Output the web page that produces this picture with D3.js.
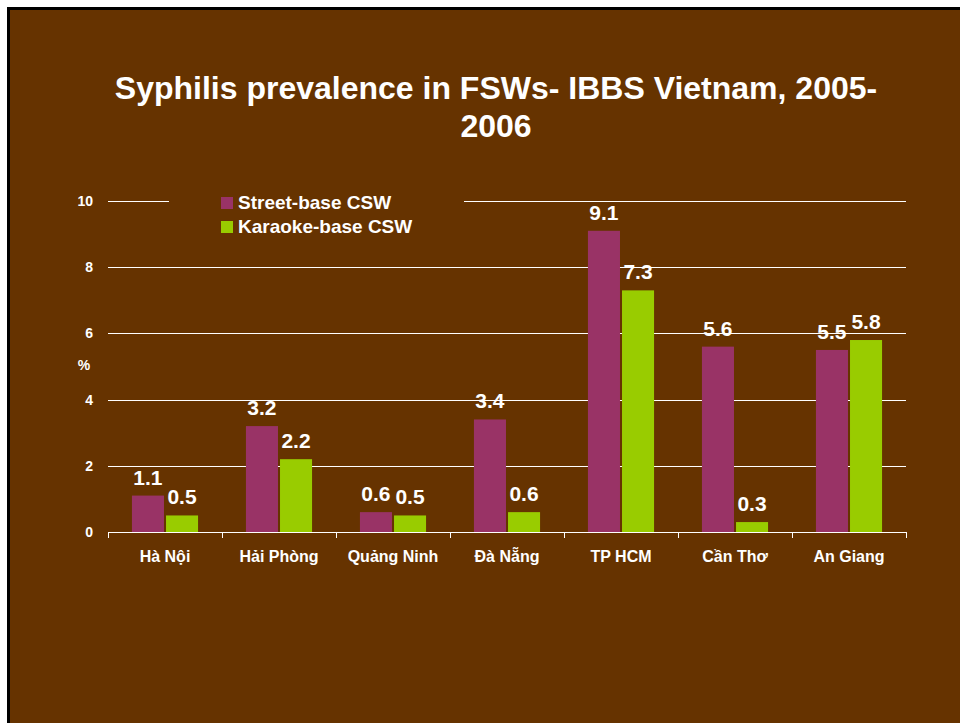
<!DOCTYPE html>
<html>
<head>
<meta charset="utf-8">
<script src="https://cdn.jsdelivr.net/npm/d3@7"></script>
<style>
  body { margin: 0; background: #fff; }
  svg { display: block; }
  svg text { font-family: "Liberation Sans", Arial, sans-serif; font-weight: bold; fill: #fff; }
</style>
</head>
<body>
<svg id="chart"></svg>
<script>
// chart data
const categories = ['Hà Nội', 'Hải Phòng', 'Quảng Ninh', 'Đà Nẵng', 'TP HCM', 'Cần Thơ', 'An Giang']
const streetValues = [1.1, 3.2, 0.6, 3.4, 9.1, 5.6, 5.5]
const karaokeValues = [0.5, 2.2, 0.5, 0.6, 7.3, 0.3, 5.8]
const seriesNames = ['Street-base CSW', 'Karaoke-base CSW']
const yTicks = [0, 2, 4, 6, 8, 10]

const width = 960
const height = 723
const colors = ['#993366', '#99cc00']

const data = categories.map((c, i) => ({ cat: c, values: [streetValues[i], karaokeValues[i]] }))

const svg = d3.select('#chart')
  .attr('width', width)
  .attr('height', height)

// slide background with black border
svg.append('rect')
  .attr('x', 8.5).attr('y', 8.5)
  .attr('width', width).attr('height', height)
  .attr('fill', '#663300')
  .attr('stroke', '#000')
  .attr('stroke-width', 3)

// title
const title = svg.append('text')
  .attr('text-anchor', 'middle')
  .style('font-size', '32px')
title.append('tspan').attr('x', 496).attr('y', 99).text('Syphilis prevalence in FSWs- IBBS Vietnam, 2005-')
title.append('tspan').attr('x', 496).attr('y', 137).text('2006')

// scales
const plotLeft = 108, plotRight = 906, plotTop = 201, plotBottom = 532
const x0 = d3.scaleBand()
  .domain(categories)
  .range([plotLeft, plotRight])
  .paddingInner(0.42)
  .paddingOuter(0.21)
const x1 = d3.scaleBand()
  .domain([0, 1])
  .range([0, x0.bandwidth()])
  .paddingInner(0.06)
const y = d3.scaleLinear()
  .domain([0, 10])
  .range([plotBottom, plotTop])
const xEdges = d3.scaleLinear()
  .domain([0, categories.length])
  .range([plotLeft, plotRight])

// gridlines
svg.append('g')
  .selectAll('line')
  .data(yTicks.filter(d => d > 0))
  .enter()
  .append('line')
  .attr('x1', plotLeft).attr('x2', plotRight)
  .attr('y1', d => Math.round(y(d)) + 0.5)
  .attr('y2', d => Math.round(y(d)) + 0.5)
  .attr('stroke', '#fff')

// y tick labels
svg.append('g')
  .selectAll('text')
  .data(yTicks)
  .enter()
  .append('text')
  .attr('x', 93)
  .attr('y', d => y(d) + 5)
  .attr('text-anchor', 'end')
  .style('font-size', '14px')
  .text(d => d)

svg.append('text')
  .attr('x', 84).attr('y', 370)
  .attr('text-anchor', 'middle')
  .style('font-size', '14px')
  .text('%')

// bars
const groups = svg.append('g')
  .selectAll('g')
  .data(data)
  .enter()
  .append('g')
  .attr('transform', d => `translate(${x0(d.cat)},0)`)

groups.selectAll('rect')
  .data(d => d.values)
  .enter()
  .append('rect')
  .attr('x', (d, i) => x1(i))
  .attr('y', d => y(d))
  .attr('width', x1.bandwidth())
  .attr('height', d => plotBottom - y(d))
  .attr('fill', (d, i) => colors[i])

// value labels
groups.selectAll('.bar-label')
  .data(d => d.values)
  .enter()
  .append('text')
  .attr('class', 'bar-label')
  .attr('x', (d, i) => x1(i) + x1.bandwidth() / 2)
  .attr('y', d => y(d) - 11)
  .attr('text-anchor', 'middle')
  .style('font-size', '21px')
  .text(d => d.toFixed(1))

// x axis with ticks at category edges
const xAxis = svg.append('g')
  .attr('transform', `translate(0,${plotBottom})`)
  .call(d3.axisBottom(xEdges).tickValues(d3.range(categories.length + 1)).tickFormat('').tickSize(6).tickSizeOuter(0))
xAxis.select('.domain').attr('stroke', '#fff')
xAxis.selectAll('.tick line').attr('stroke', '#fff')

svg.append('g')
  .selectAll('text')
  .data(categories)
  .enter()
  .append('text')
  .attr('x', d => x0(d) + x0.bandwidth() / 2)
  .attr('y', 562)
  .attr('text-anchor', 'middle')
  .style('font-size', '16px')
  .text(d => d)

// legend
const legend = svg.append('g')
legend.append('rect')
  .attr('x', 169).attr('y', 190)
  .attr('width', 295).attr('height', 50)
  .attr('fill', '#663300')
const items = legend.selectAll('g')
  .data(seriesNames)
  .enter()
  .append('g')
  .attr('transform', (d, i) => `translate(221,${197 + i * 24})`)
items.append('rect')
  .attr('width', 12).attr('height', 12)
  .attr('fill', (d, i) => colors[i])
items.append('text')
  .attr('x', 17).attr('y', 12)
  .style('font-size', '19px')
  .text(d => d)
</script>
</body>
</html>
